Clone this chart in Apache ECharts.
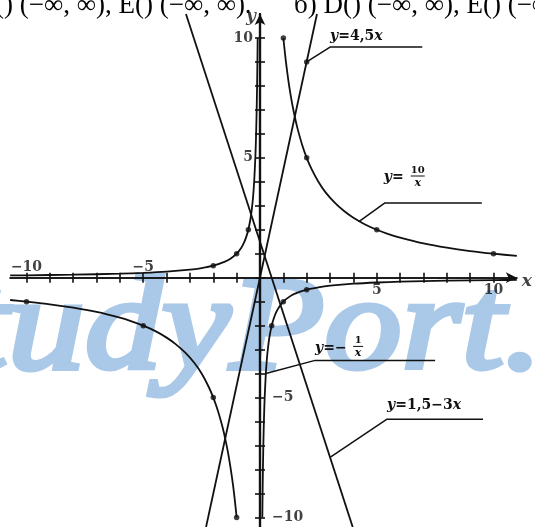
<!DOCTYPE html>
<html><head><meta charset="utf-8">
<script src="https://cdn.jsdelivr.net/npm/echarts@6/dist/echarts.min.js"></script>
<style>html,body{margin:0;padding:0;background:#fff;overflow:hidden}#c{width:535px;height:527px}</style>
</head><body><div id="c"></div>
<script>
// ---- data ----
const xTicks = [-10,-9,-8,-7,-6,-5,-4,-3,-2,-1,0,1,2,3,4,5,6,7,8,9,10];
const yTicks = [-10,-9,-8,-7,-6,-5,-4,-3,-2,-1,0,1,2,3,4,5,6,7,8,9,10];
const xTickLabels = [[-10,'−10','top'],[-5,'−5','top'],[5,'5','bottom'],[10,'10','bottom']];
const yTickLabels = [[10,'10','left'],[5,'5','left'],[-5,'−5','right'],[-10,'−10','right']];

// y = 10/x
const hypTenRight = [[1,10],[1.1,9.09],[1.2,8.33],[1.3,7.69],[1.4,7.14],[1.5,6.67],[1.6,6.25],[1.8,5.56],[2,5],[2.2,4.55],[2.5,4],[2.8,3.57],[3.2,3.13],[3.6,2.78],[4,2.5],[4.5,2.22],[5,2],[5.5,1.82],[6,1.67],[7,1.43],[8,1.25],[9,1.11],[10,1],[11,0.91]];
const hypTenLeft = [[-10.7,-0.93],[-10,-1],[-9,-1.11],[-8,-1.25],[-7,-1.43],[-6,-1.67],[-5.5,-1.82],[-5,-2],[-4.5,-2.22],[-4,-2.5],[-3.6,-2.78],[-3.2,-3.13],[-2.8,-3.57],[-2.5,-4],[-2.2,-4.55],[-2,-5],[-1.8,-5.56],[-1.6,-6.25],[-1.5,-6.67],[-1.4,-7.14],[-1.3,-7.69],[-1.2,-8.33],[-1.1,-9.09],[-1,-10]];
const hypTenDots = [[1,10],[2,5],[5,2],[10,1],[-10,-1],[-5,-2],[-2,-5],[-1,-10]];

// y = -1/x
const hypOneLeft = [[-10.7,0.093],[-10,0.1],[-8,0.125],[-6,0.167],[-5,0.2],[-4,0.25],[-3,0.333],[-2.5,0.4],[-2,0.5],[-1.5,0.667],[-1.25,0.8],[-1,1],[-0.8,1.25],[-0.7,1.43],[-0.6,1.67],[-0.5,2],[-0.4,2.5],[-0.35,2.86],[-0.3,3.33],[-0.25,4],[-0.2,5],[-0.18,5.56],[-0.16,6.25],[-0.14,7.14],[-0.125,8],[-0.11,9.09],[-0.1,10]];
const hypOneRight = [[0.1,-10],[0.11,-9.09],[0.125,-8],[0.14,-7.14],[0.16,-6.25],[0.18,-5.56],[0.2,-5],[0.25,-4],[0.3,-3.33],[0.35,-2.86],[0.4,-2.5],[0.5,-2],[0.6,-1.67],[0.7,-1.43],[0.8,-1.25],[1,-1],[1.25,-0.8],[1.5,-0.667],[2,-0.5],[2.5,-0.4],[3,-0.333],[4,-0.25],[5,-0.2],[6,-0.167],[8,-0.125],[10,-0.1],[11,-0.091]];
const hypOneDots = [[-2,0.5],[-1,1],[-0.5,2],[0.5,-2],[1,-1],[2,-0.5]];

// lines
const lineA = [[-2.31,-10.4],[2.44,11]];      // y = 4.5x
const lineADots = [[2,9]];
const lineB = [[-3.17,11],[3.97,-10.4]];      // y = 1.5 - 3x

// leaders: curve point -> knee -> end of underline
const leaderA = [[2,9],[3.0,9.62],[6.95,9.62]];
const leaderB = [[4.25,2.35],[5.35,3.12],[9.5,3.12]];
const leaderC = [[0.25,-4],[2.36,-3.45],[7.5,-3.45]];
const leaderD = [[3.0,-7.5],[5.44,-5.9],[9.55,-5.9]];

// label anchors (left, middle) in data units
const labelA = [3.0, 10.05];
const labelB = [5.3, 4.2];
const labelC = [2.36, -2.95];
const labelD = [5.44, -5.33];

const topLeftText = '() (−∞, ∞), E() (−∞, ∞).';
const topRightText = 'б) D() (−∞, ∞), E() (−∞, ∞).';
const watermarkText = 'StudyPort.';

// ---- chart ----
const chart = echarts.init(document.getElementById('c'), null, {renderer:'canvas'});
const XMIN = -10.7, XMAX = 11, YMIN = -10.4, YMAX = 11;
const black = '#111';
const lblFont = {fontFamily:'DejaVu Serif', fontWeight:'bold', fontSize:14, color:black};

function axisX(pos){
  return {type:'value', min:XMIN, max:XMAX, position:pos,
    axisLine:{show:true, onZero:true, lineStyle:{color:black,width:1.6},
      symbol: pos==='bottom' ? ['none','arrow'] : ['none','none'], symbolSize:[8,11]},
    axisTick:{show:true, inside:false, length:5, customValues:xTicks, lineStyle:{color:black,width:1.6}},
    axisLabel:{show:false}, splitLine:{show:false}};
}
function axisY(pos){
  return {type:'value', min:YMIN, max:YMAX, position:pos,
    axisLine:{show:true, onZero:true, lineStyle:{color:black,width:2.2},
      symbol: pos==='left' ? ['none','arrow'] : ['none','none'], symbolSize:[8,11]},
    axisTick:{show:true, inside:false, length:5, customValues:yTicks, lineStyle:{color:black,width:1.6}},
    axisLabel:{show:false}, splitLine:{show:false}};
}
function curve(data){
  return {type:'line', data:data, smooth:0.25, symbol:'none',
    lineStyle:{color:black, width:1.8}, z:3, silent:true};
}
function straight(data, w){
  return {type:'line', data:data, smooth:false, symbol:'none',
    lineStyle:{color:black, width:w||1.8}, z:3, silent:true};
}
function dots(data){
  return {type:'scatter', data:data, symbol:'circle', symbolSize:5.5,
    itemStyle:{color:black}, z:4, silent:true};
}
const xLabelData = xTickLabels.map(t => ({value:[t[0],0,t[1]],
  label:{position:t[2], distance: t[2]==='top'?3:6}}));
const yLabelData = yTickLabels.map(t => ({value:[0,t[0],t[1]],
  label:{position:t[2], distance: t[2]==='left'?7:12}}));

const pxX = 23.35, pxY = 24;
const gLeft = 260 + XMIN*pxX, gWidth = (XMAX-XMIN)*pxX;
const gTop = 278 - YMAX*pxY, gHeight = (YMAX-YMIN)*pxY;

chart.setOption({
  animation:false,
  grid:{left:gLeft, top:gTop, width:gWidth, height:gHeight, containLabel:false},
  xAxis:[axisX('bottom'), axisX('top')],
  yAxis:[axisY('left'), axisY('right')],
  series:[
    curve(hypTenRight), curve(hypTenLeft), dots(hypTenDots),
    curve(hypOneLeft), curve(hypOneRight), dots(hypOneDots),
    straight(lineA), dots(lineADots), straight(lineB),
    straight(leaderA,1.5), straight(leaderB,1.5), straight(leaderC,1.5), straight(leaderD,1.5),
    {type:'scatter', data:xLabelData.concat(yLabelData), symbolSize:0, silent:true, z:5,
      label:Object.assign({show:true, formatter:p=>p.value[2]}, lblFont)},
    {type:'scatter', symbolSize:0, silent:true, z:5,
      data:[{value:[XMAX,0,'x'], label:{position:'right', distance:5, offset:[0,4]}},
            {value:[0,YMAX,'y'], label:{position:'left', distance:4, offset:[0,3]}}],
      label:{show:true, formatter:p=>p.value[2], fontFamily:'DejaVu Serif', fontStyle:'italic', fontWeight:'bold', fontSize:17, color:black}}
  ]
});

function P(pt){ return chart.convertToPixel({gridIndex:0}, pt); }
const tf = "bold 14px 'DejaVu Serif'";
const tfi = "italic bold 14px 'DejaVu Serif'";
const small = "bold 10px 'DejaVu Serif'";
const smallI = "italic bold 11px 'DejaVu Serif'";
const gA = P(labelA), gB = P(labelB), gC = P(labelC), gD = P(labelD);
const graphics = [
  {type:'text', x:-112, y:400, z:-10, silent:true, scaleX:1.15,
    style:{text:watermarkText, font:"italic 134px 'Liberation Serif'", fill:'#aac8e7', stroke:'#aac8e7', lineWidth:5, textVerticalAlign:'bottom'}},
  {type:'text', x:-5, y:6, z:10, style:{text:topLeftText, font:"27px 'Liberation Serif'", fill:'#000', textVerticalAlign:'middle'}},
  {type:'text', x:294, y:6, z:10, style:{text:topRightText, font:"27px 'Liberation Serif'", fill:'#000', textVerticalAlign:'middle'}},
  {type:'text', x:gA[0], y:gA[1], z:10, style:{text:'{i|y}=4,5{i|x}', rich:{i:{font:tfi}}, font:tf, fill:black, textVerticalAlign:'middle'}},
  {type:'group', x:gB[0], y:gB[1], z:10, children:[
    {type:'text', x:0, y:0, style:{text:'{i|y}=', rich:{i:{font:tfi}}, font:tf, fill:black, textVerticalAlign:'middle'}},
    {type:'text', x:34, y:-7, style:{text:'10', font:small, fill:black, textAlign:'center', textVerticalAlign:'middle'}},
    {type:'line', shape:{x1:27, y1:-1, x2:41, y2:-1}, style:{stroke:black, lineWidth:1}},
    {type:'text', x:34, y:6, style:{text:'x', font:smallI, fill:black, textAlign:'center', textVerticalAlign:'middle'}}
  ]},
  {type:'group', x:gC[0], y:gC[1], z:10, children:[
    {type:'text', x:0, y:0, style:{text:'{i|y}=−', rich:{i:{font:tfi}}, font:tf, fill:black, textVerticalAlign:'middle'}},
    {type:'text', x:43, y:-8, style:{text:'1', font:small, fill:black, textAlign:'center', textVerticalAlign:'middle'}},
    {type:'line', shape:{x1:38, y1:-2, x2:48, y2:-2}, style:{stroke:black, lineWidth:1}},
    {type:'text', x:43, y:5, style:{text:'x', font:smallI, fill:black, textAlign:'center', textVerticalAlign:'middle'}}
  ]},
  {type:'text', x:gD[0], y:gD[1], z:10, style:{text:'{i|y}=1,5−3{i|x}', rich:{i:{font:tfi}}, font:tf, fill:black, textVerticalAlign:'middle'}}
];
chart.setOption({graphic:graphics});
</script></body></html>
